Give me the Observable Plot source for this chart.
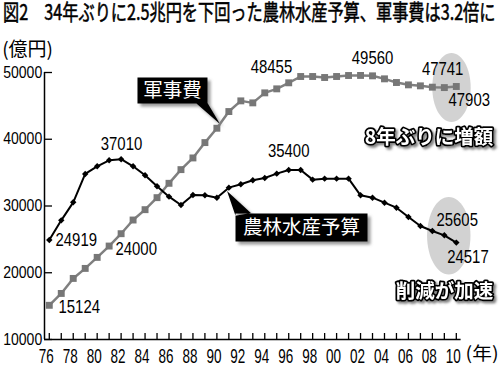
<!DOCTYPE html>
<html><head><meta charset="utf-8">
<script src="https://cdn.jsdelivr.net/npm/d3@7"></script>
<script src="https://cdn.jsdelivr.net/npm/@observablehq/plot@0.6"></script>
<style>
html,body{margin:0;padding:0;background:#fff;}
body{width:503px;height:367px;overflow:hidden;}
#title{display:block;}
#chart svg{display:block;}
</style></head><body>
<svg id="title" width="503" height="24"><text id="titletext" x="0" y="0" style="font-family:'Noto Sans CJK JP','Noto Sans CJK SC',sans-serif;font-size:22px;fill:#000;stroke:#000;stroke-width:0.4px;"></text></svg>
<div id="chart"></div>
<script>
// ---------- data ----------
const titleText = "図2　34年ぶりに2.5兆円を下回った農林水産予算、軍事費は3.2倍に";
const years = [1976,1977,1978,1979,1980,1981,1982,1983,1984,1985,1986,1987,1988,1989,1990,1991,1992,1993,1994,1995,1996,1997,1998,1999,2000,2001,2002,2003,2004,2005,2006,2007,2008,2009,2010];
// 軍事費（億円）
const defenseBudget = [15124,16900,19150,20650,22300,24000,25850,27900,29450,31250,33400,35450,37200,39500,41650,44150,45750,45450,46950,47550,48455,49400,49400,49250,49400,49550,49560,49500,49050,48500,48150,48000,47800,47741,47903];
// 農林水産予算（億円）
const agriBudget = [24919,27850,30550,34800,35950,36850,37010,35950,34600,32950,31400,30150,31650,31600,31250,32750,33250,33850,34200,34850,35400,35400,33950,34100,34100,34100,31600,31250,30500,29750,28350,27000,26250,25605,24517];
const yTicks = [10000,20000,30000,40000,50000];
const xLabelYears = [1976,1978,1980,1982,1984,1986,1988,1990,1992,1994,1996,1998,2000,2002,2004,2006,2008,2010];
const defenseLabelYears = [1976,1981,1996,2002,2009,2010];
const agriLabelYears = [1976,1982,1996,2009,2010];
const seriesNames = ["軍事費","農林水産予算"];
const notes = ["8年ぶりに増額","削減が加速"];
const unitY = "(億円)";
const unitX = "(年)";

// ---------- title (fit to width, glyphs stretched vertically like the condensed original) ----------
const tt = document.getElementById("titletext");
tt.textContent = titleText;
const natural = tt.getComputedTextLength();
const fs = 22 * 493 / natural;
tt.style.fontSize = fs + "px";
tt.setAttribute("transform", `translate(3,20) scale(1,${(22/fs).toFixed(4)})`);

// ---------- setup ----------
const defense = years.map((year,i)=>({year, value: defenseBudget[i]}));
const agri = years.map((year,i)=>({year, value: agriBudget[i]}));
const at = (rows, y) => rows.find(d => d.year === y);
const mid = rows => [{year: d3.mean(rows, d=>d.year), value: d3.mean(rows, d=>d.value)}];

const xDomain = [1975.6, 2010.4], yDomain = [10000, 50000];
const NUM = '"Liberation Sans", Arial, Helvetica, sans-serif';
const JP = '"Noto Sans CJK JP", "Noto Sans CJK SC", sans-serif';

const ellipse = (rx, ry) => ({draw(c){
  const k = 0.5523;
  c.moveTo(rx,0);
  c.bezierCurveTo(rx, ry*k, rx*k, ry, 0, ry);
  c.bezierCurveTo(-rx*k, ry, -rx, ry*k, -rx, 0);
  c.bezierCurveTo(-rx, -ry*k, -rx*k, -ry, 0, -ry);
  c.bezierCurveTo(rx*k, -ry, rx, -ry*k, rx, 0);
  c.closePath();
}});
const callout = (x0, y0, x1, y1, tail) => ({draw(c){
  c.moveTo(x0,y0); c.lineTo(x1,y0); c.lineTo(x1,y1); c.lineTo(x0,y1); c.closePath();
  c.moveTo(tail[0][0],tail[0][1]); c.lineTo(tail[1][0],tail[1][1]); c.lineTo(tail[2][0],tail[2][1]); c.closePath();
}});
const defenseBox = callout(-79.4,-50.7,-9.4,-24.7, [[-21,-25.2],[-9.4,-25.2],[3.1,-4.2]]);
const agriBox = callout(6.65,25.9,138.65,53.9, [[-1.85,3.4],[6.65,28],[22,25.4]]);

const defensePlace = {
  1976:{textAnchor:"start", dx:9.2, dy:2.2},
  1981:{textAnchor:"start", dx:6.3, dy:3.5},
  1996:{textAnchor:"end", dx:3.5, dy:-15.8},
  2002:{textAnchor:"middle", dx:12, dy:-17.4},
  2009:{textAnchor:"middle", dx:-1.7, dy:-18.8},
  2010:{textAnchor:"start", dx:-7.8, dy:13.5}
};
const agriPlace = {
  1976:{textAnchor:"start", dx:6.2, dy:0.6},
  1982:{textAnchor:"middle", dx:0.4, dy:-14.7},
  1996:{textAnchor:"middle", dx:0, dy:-19},
  2009:{textAnchor:"start", dx:-7.9, dy:-14.8},
  2010:{textAnchor:"start", dx:-9.1, dy:14.9}
};
const numLabel = {fontFamily: NUM, fontSize: 18.5, fill:"#000", lineAnchor:"middle", ariaDescription:"value-label"};
const noteStyle = {lineAnchor:"middle", fontFamily: JP, fontWeight:"bold", fontSize:19.5, fill:"#fff", stroke:"#000", strokeWidth:3.5, strokeLinejoin:"round", paintOrder:"stroke", ariaDescription:"note"};

const chart = Plot.plot({
  width: 503, height: 343,
  marginTop: 48, marginBottom: 28, marginLeft: 44, marginRight: 42.4,
  x: {domain: xDomain},
  y: {domain: yDomain},
  style: {background:"#fff", overflow:"visible", fontFamily: NUM},
  marks: [
    // highlight ellipses
    Plot.dot(mid(defense.slice(-2)), {x:"year", y:"value", r:1, symbol: ellipse(19.2,34.5), dx:1.15, dy:0.5, fill:"#d2d2d2", stroke:"none"}),
    Plot.dot(mid(agri.slice(-2)), {x:"year", y:"value", r:1, symbol: ellipse(21.7,38.7), dx:-1.55, dy:-3.2, fill:"#d2d2d2", stroke:"none"}),
    // callout shadows and boxes
    Plot.dot([at(defense,1990)], {x:"year", y:"value", r:1, symbol: defenseBox, dx:3, dy:3, fill:"#777", fillOpacity:0.75, stroke:"none", ariaDescription:"shadow"}),
    Plot.dot([at(agri,1991)], {x:"year", y:"value", r:1, symbol: agriBox, dx:3, dy:3, fill:"#777", fillOpacity:0.75, stroke:"none", ariaDescription:"shadow"}),
    Plot.dot([at(defense,1990)], {x:"year", y:"value", r:1, symbol: defenseBox, fill:"#000", stroke:"none"}),
    Plot.dot([at(agri,1991)], {x:"year", y:"value", r:1, symbol: agriBox, fill:"#000", stroke:"none"}),
    // axes
    Plot.ruleX([xDomain[0]], {y1: yDomain[0], y2: yDomain[1], stroke:"#000", strokeWidth:1.5}),
    Plot.ruleY([yDomain[0]], {stroke:"#000", strokeWidth:1.5}),
    Plot.axisY(yTicks, {tickSize:-8, tickFormat: () => "", fill:"none", stroke:"#000", strokeWidth:1.3}),
    Plot.axisX(years, {tickSize:-6, tickFormat: () => "", fill:"none", stroke:"#000", strokeWidth:1.3}),
    Plot.text(yTicks, {x: () => xDomain[0], y: d => d, text: d => String(d), textAnchor:"end", lineAnchor:"middle", dx:-2.3, fontFamily: NUM, fontSize:16, fill:"#000", ariaDescription:"y-label"}),
    Plot.text(xLabelYears, {x: d => d, y: () => yDomain[0], text: d => String(d).slice(2), textAnchor:"middle", lineAnchor:"top", dx:-3, dy:9, fontFamily: NUM, fontSize:21, fill:"#000", ariaDescription:"x-label"}),
    Plot.text([unitY], {frameAnchor:"top-left", textAnchor:"start", lineAnchor:"middle", dx:-42.3, dy:-22.2, fontFamily: JP, fontSize:19, fill:"#000"}),
    Plot.text([unitX], {frameAnchor:"bottom-right", textAnchor:"start", lineAnchor:"middle", dx:4.5, dy:15, fontFamily: JP, fontSize:18, fill:"#000", ariaDescription:"x-unit"}),
    // series
    Plot.line(defense, {x:"year", y:"value", stroke:"#808080", strokeWidth:2.5}),
    Plot.dot(defense, {x:"year", y:"value", symbol:"square", r:3.9, fill:"#777", stroke:"none"}),
    Plot.line(agri, {x:"year", y:"value", stroke:"#000", strokeWidth:2}),
    Plot.dot(agri, {x:"year", y:"value", symbol:"diamond2", r:2.9, fill:"#000", stroke:"none"}),
    // value labels
    ...defenseLabelYears.map(y => Plot.text([at(defense,y)], {x:"year", y:"value", text: d => String(d.value), ...defensePlace[y], ...numLabel})),
    ...agriLabelYears.map(y => Plot.text([at(agri,y)], {x:"year", y:"value", text: d => String(d.value), ...agriPlace[y], ...numLabel})),
    // callout texts
    Plot.text([at(defense,1990)], {x:"year", y:"value", text: () => seriesNames[0], dx:-44.4, dy:-37.2, lineAnchor:"middle", fontFamily: JP, fontSize:19.5, fill:"#fff"}),
    Plot.text([at(agri,1991)], {x:"year", y:"value", text: () => seriesNames[1], dx:72.65, dy:39.9, lineAnchor:"middle", fontFamily: JP, fontSize:19.5, fill:"#fff"}),
    // outlined notes
    Plot.text([at(defense,2010)], {x:"year", y:"value", text: () => notes[0], dx:-27.4, dy:51.3, ...noteStyle}),
    Plot.text([at(agri,2010)], {x:"year", y:"value", text: () => notes[1], dx:-11.9, dy:49.6, ...noteStyle})
  ]
});
document.getElementById("chart").appendChild(chart);

// ---------- finishing: condensed digits, soft shadows ----------
function fit(desc, perChar){
  chart.querySelectorAll(`g[aria-description="${desc}"] text`).forEach(t => {
    const n = t.textContent.length;
    t.setAttribute("textLength", (n*perChar).toFixed(1));
    t.setAttribute("lengthAdjust", "spacingAndGlyphs");
  });
}
fit("y-label", 7.8);
fit("x-label", 7.5);
fit("value-label", 8.3);
fit("x-unit", 11);
const svg = d3.select(chart);
const defs = svg.insert("defs", ":first-child");
defs.append("filter").attr("id","blur").attr("x","-20%").attr("y","-20%").attr("width","140%").attr("height","140%")
  .append("feGaussianBlur").attr("stdDeviation", 1.8);
defs.append("filter").attr("id","noteShadow").attr("x","-10%").attr("y","-30%").attr("width","130%").attr("height","170%")
  .append("feDropShadow").attr("dx", 2.2).attr("dy", 2.2).attr("stdDeviation", 1.2).attr("flood-color", "#777").attr("flood-opacity", 0.9);
svg.selectAll('g[aria-description="shadow"]').attr("filter","url(#blur)");
svg.selectAll('g[aria-description="note"]').attr("filter","url(#noteShadow)");
</script>
</body></html>
